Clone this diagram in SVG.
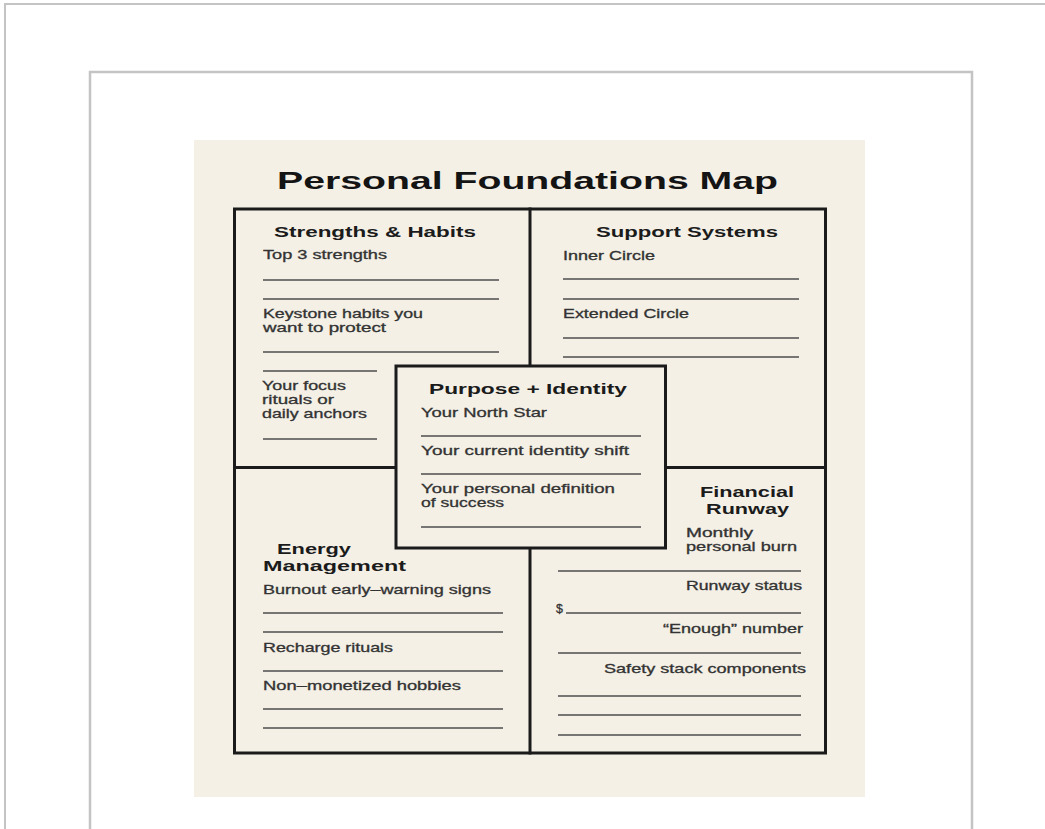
<svg xmlns="http://www.w3.org/2000/svg" width="1045" height="829" viewBox="0 0 1045 829">
  <style>
    .frame { fill: none; stroke: #c4c4c4; }
    .sheet { fill: #f4f0e6; }
    .grid { fill: none; stroke: #1b1b1b; stroke-width: 3; stroke-linecap: square; }
    .box { fill: #f4f0e6; stroke: #1b1b1b; stroke-width: 3; }
    .rule { stroke: #4e4e4e; stroke-width: 1.3; }
    .title { font-family: "Liberation Sans", Arial, sans-serif; font-weight: 700; font-size: 23px; fill: #141414; }
    .head { font-family: "Liberation Sans", Arial, sans-serif; font-weight: 700; font-size: 15.5px; fill: #1b1b1b; }
    .body { font-family: "Liberation Sans", Arial, sans-serif; font-weight: 400; font-size: 12.4px; fill: #333333; stroke: #333333; stroke-width: 0.3; }
  </style>

  <!-- page frames -->
  <path class="frame" stroke-width="2" d="M5,829 V4 H1045"/>
  <path class="frame" stroke-width="2.5" d="M90,829 V72 H972 V829"/>

  <!-- worksheet sheet -->
  <rect class="sheet" x="194" y="140" width="671" height="657"/>
  <text class="title" x="277" y="189" textLength="501" lengthAdjust="spacingAndGlyphs">Personal Foundations Map</text>

  <!-- quadrant grid -->
  <g id="connectors">
    <rect class="grid" x="234.5" y="209" width="591" height="544"/>
    <line class="grid" x1="530" y1="209" x2="530" y2="753"/>
    <line class="grid" x1="234.5" y1="467.5" x2="825.5" y2="467.5"/>
  </g>

  <!-- top-left: strengths -->
  <g id="strengths-habits">
    <text class="head" x="274" y="237" textLength="202" lengthAdjust="spacingAndGlyphs">Strengths &amp; Habits</text>
    <text class="body" x="263" y="259" textLength="124" lengthAdjust="spacingAndGlyphs">Top 3 strengths</text>
    <line class="rule" x1="263" y1="280" x2="499" y2="280"/>
    <line class="rule" x1="263" y1="299" x2="499" y2="299"/>
    <text class="body" x="263" y="318" textLength="160" lengthAdjust="spacingAndGlyphs">Keystone habits you</text>
    <text class="body" x="263" y="332" textLength="123" lengthAdjust="spacingAndGlyphs">want to protect</text>
    <line class="rule" x1="263" y1="352" x2="499" y2="352"/>
    <line class="rule" x1="263" y1="371" x2="377" y2="371"/>
    <text class="body" x="262" y="390" textLength="84" lengthAdjust="spacingAndGlyphs">Your focus</text>
    <text class="body" x="262" y="404" textLength="72" lengthAdjust="spacingAndGlyphs">rituals or</text>
    <text class="body" x="262" y="418" textLength="105" lengthAdjust="spacingAndGlyphs">daily anchors</text>
    <line class="rule" x1="263" y1="439" x2="377" y2="439"/>
  </g>

  <!-- top-right: support -->
  <g id="support-systems">
    <text class="head" x="596" y="237" textLength="182" lengthAdjust="spacingAndGlyphs">Support Systems</text>
    <text class="body" x="563" y="260" textLength="92" lengthAdjust="spacingAndGlyphs">Inner Circle</text>
    <line class="rule" x1="563" y1="279" x2="799" y2="279"/>
    <line class="rule" x1="563" y1="299" x2="799" y2="299"/>
    <text class="body" x="563" y="318" textLength="126" lengthAdjust="spacingAndGlyphs">Extended Circle</text>
    <line class="rule" x1="563" y1="338" x2="799" y2="338"/>
    <line class="rule" x1="563" y1="357" x2="799" y2="357"/>
  </g>

  <!-- bottom-left: energy -->
  <g id="energy-management">
    <text class="head" x="277" y="553.5" textLength="74" lengthAdjust="spacingAndGlyphs">Energy</text>
    <text class="head" x="263" y="571" textLength="143" lengthAdjust="spacingAndGlyphs">Management</text>
    <text class="body" x="263" y="594" textLength="228" lengthAdjust="spacingAndGlyphs">Burnout early–warning signs</text>
    <line class="rule" x1="263" y1="613" x2="503" y2="613"/>
    <line class="rule" x1="263" y1="632" x2="503" y2="632"/>
    <text class="body" x="263" y="652" textLength="130" lengthAdjust="spacingAndGlyphs">Recharge rituals</text>
    <line class="rule" x1="263" y1="671" x2="503" y2="671"/>
    <text class="body" x="263" y="690" textLength="198" lengthAdjust="spacingAndGlyphs">Non–monetized hobbies</text>
    <line class="rule" x1="263" y1="709" x2="503" y2="709"/>
    <line class="rule" x1="263" y1="728" x2="503" y2="728"/>
  </g>

  <!-- bottom-right: finances -->
  <g id="financial-runway">
    <text class="head" x="700" y="496.5" textLength="94" lengthAdjust="spacingAndGlyphs">Financial</text>
    <text class="head" x="706" y="514" textLength="83" lengthAdjust="spacingAndGlyphs">Runway</text>
    <text class="body" x="686" y="537" textLength="67" lengthAdjust="spacingAndGlyphs">Monthly</text>
    <text class="body" x="686" y="551" textLength="111" lengthAdjust="spacingAndGlyphs">personal burn</text>
    <line class="rule" x1="558" y1="571" x2="801" y2="571"/>
    <text class="body" x="686" y="590" textLength="116" lengthAdjust="spacingAndGlyphs">Runway status</text>
    <text class="body" x="556" y="613">$</text>
    <line class="rule" x1="566" y1="613" x2="801" y2="613"/>
    <text class="body" x="663" y="633" textLength="140" lengthAdjust="spacingAndGlyphs">“Enough” number</text>
    <line class="rule" x1="558" y1="653" x2="801" y2="653"/>
    <text class="body" x="604" y="673" textLength="202" lengthAdjust="spacingAndGlyphs">Safety stack components</text>
    <line class="rule" x1="558" y1="696" x2="801" y2="696"/>
    <line class="rule" x1="558" y1="715" x2="801" y2="715"/>
    <line class="rule" x1="558" y1="735" x2="801" y2="735"/>
  </g>

  <!-- centre: purpose -->
  <g id="purpose-identity">
    <rect class="box" x="396" y="366" width="269.5" height="182"/>
    <text class="head" x="429" y="394" textLength="198" lengthAdjust="spacingAndGlyphs">Purpose + Identity</text>
    <text class="body" x="421" y="417" textLength="126" lengthAdjust="spacingAndGlyphs">Your North Star</text>
    <line class="rule" x1="421" y1="436" x2="641" y2="436"/>
    <text class="body" x="421" y="455" textLength="208" lengthAdjust="spacingAndGlyphs">Your current identity shift</text>
    <line class="rule" x1="421" y1="474" x2="641" y2="474"/>
    <text class="body" x="421" y="493" textLength="194" lengthAdjust="spacingAndGlyphs">Your personal definition</text>
    <text class="body" x="421" y="507" textLength="83" lengthAdjust="spacingAndGlyphs">of success</text>
    <line class="rule" x1="421" y1="527" x2="641" y2="527"/>
  </g>
</svg>
